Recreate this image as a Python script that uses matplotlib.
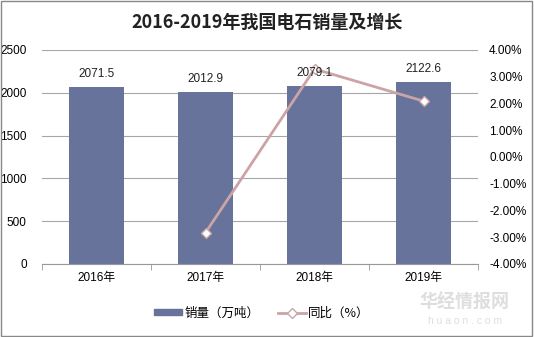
import matplotlib.pyplot as plt
from matplotlib.patches import Rectangle

plt.rcParams['font.family'] = ['Liberation Sans', 'Noto Sans CJK SC', 'DejaVu Sans']

# data
years = ['2016年', '2017年', '2018年', '2019年']
sales = [2071.5, 2012.9, 2079.1, 2122.6]
yoy_years = ['2017年', '2018年', '2019年']
yoy = [-2.83, 3.29, 2.09]

bar_color = '#67739b'
line_color = '#cba4a6'

fig = plt.figure(figsize=(5.34, 3.37), dpi=100)
ax = fig.add_axes([42 / 534, 1 - 264 / 337, 436 / 534, 214 / 337])

x = list(range(len(years)))
ax.bar(x, sales, width=0.5, color=bar_color, zorder=2)

ax.set_xlim(-0.5, len(years) - 0.5)
ax.set_ylim(0, 2500)
ax.set_yticks(range(0, 2501, 500))
ax.set_xticks(x)
ax.set_xticklabels(years)
ax.set_xticks([i + 0.5 for i in range(-1, len(years))], minor=True)
ax.tick_params(axis='x', which='major', length=0, labelsize=8.5, pad=6)
ax.tick_params(axis='x', which='minor', length=4, color='#999999')
ax.tick_params(axis='y', length=0, labelsize=8.5, pad=11)
ax.grid(axis='y', color='#a6a6a6', linewidth=0.8, zorder=0)
for s in ['top', 'left', 'right']:
    ax.spines[s].set_visible(False)
ax.spines['bottom'].set_color('#999999')

ax2 = ax.twinx()
xi2 = [years.index(y) for y in yoy_years]
ax2.plot(xi2, yoy, color=line_color, linewidth=2, marker='D', markersize=5,
         markerfacecolor='white', markeredgecolor=line_color, markeredgewidth=1, zorder=4)
ax2.set_ylim(-4, 4)
ax2.set_yticks(range(-4, 5, 1))
ax2.set_yticklabels([f'{t:.2f}%' for t in range(-4, 5, 1)])
ax2.tick_params(axis='y', length=0, labelsize=8.5, pad=8)
for s in ['top', 'left', 'right', 'bottom']:
    ax2.spines[s].set_visible(False)

# bar value labels drawn on top of the line
for xi, v in zip(x, sales):
    ax2.annotate(f'{v:.1f}', (xi, v), xycoords=ax.transData, xytext=(0, 5),
                 textcoords='offset points', ha='center', va='bottom',
                 fontsize=8.5, color='#222222', zorder=6)

fig.text(0.5, 1 - 22 / 337, '2016-2019年我国电石销量及增长', ha='center', va='center',
         fontsize=13, fontweight='bold', family=['Noto Sans CJK SC'], color='#222222')

# legend
h1 = Rectangle((0, 0), 1, 1, color=bar_color)
h2, = ax2.plot([], [], color=line_color, linewidth=2, marker='D', markersize=5,
               markerfacecolor='white', markeredgecolor=line_color)
fig.legend([h1, h2], ['销量（万吨）', '同比（%）'], loc='center', bbox_to_anchor=(262 / 534, 1 - 313 / 337),
           ncol=2, frameon=False, handlelength=2.2, handleheight=0.35,
           columnspacing=1.5, handletextpad=0.2, prop={'family': ['Noto Sans CJK SC'], 'size': 9})

# watermark
fig.text(465 / 534, 1 - 302 / 337, '华经情报网', ha='center', va='center', fontsize=13,
         fontweight='bold', family=['Noto Sans CJK SC'], color='#dedede')
fig.text(465 / 534, 1 - 321 / 337, 'h u a o n . c o m', ha='center', va='center', fontsize=7.5,
         color='#dedede')

# outer border
fig.add_artist(Rectangle((0.002, 0.003), 0.995, 0.994, transform=fig.transFigure,
                         fill=False, edgecolor='#888888', linewidth=1))

plt.savefig('out.png', dpi=100)
